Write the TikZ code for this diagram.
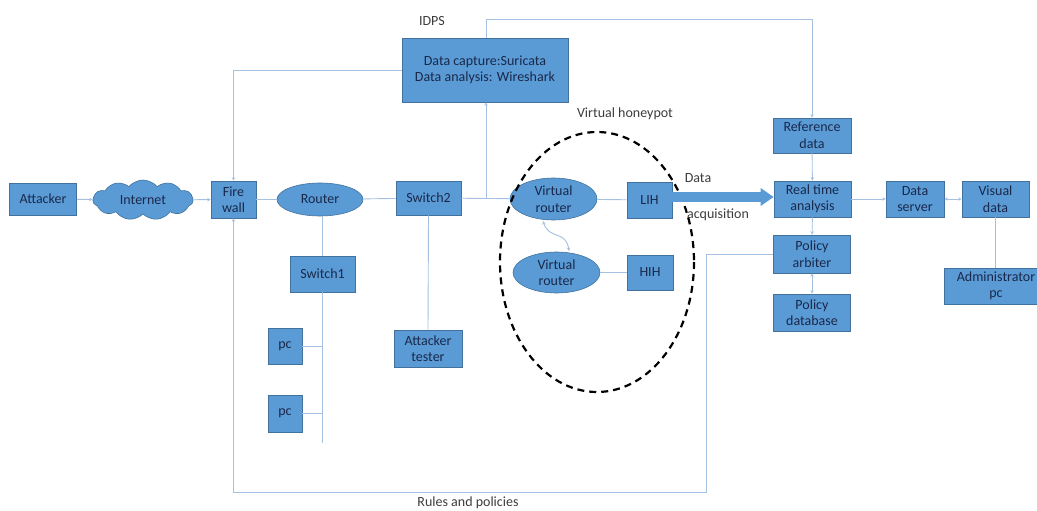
\documentclass[tikz,border=0pt]{standalone}
\usepackage{fontspec}
\setmainfont{Carlito}
\usetikzlibrary{arrows.meta,shapes.geometric,shapes.symbols,calc}
\definecolor{boxfill}{RGB}{91,155,213}
\definecolor{boxline}{RGB}{65,113,156}
\definecolor{txt}{RGB}{25,40,75}
\definecolor{conn}{RGB}{165,192,225}
\definecolor{lbl}{RGB}{60,60,60}
\tikzset{
  base/.style={fill=boxfill, draw=boxline, line width=0.6pt, text=txt, align=center,
    font=\fontsize{14}{16.5}\selectfont, inner sep=0pt},
  bx/.style={base, rectangle},
  ell/.style={base, ellipse},
  cld/.style={base, cloud, cloud puffs=11, cloud puff arc=100, aspect=2.5},
  conline/.style={draw=conn, line width=0.9pt},
  arr/.style={conline, -{Stealth[length=3.5pt,width=3.5pt]}},
  darr/.style={conline, {Stealth[length=3.5pt,width=3.5pt]}-{Stealth[length=3.5pt,width=3.5pt]}},
  plain/.style={text=lbl, font=\fontsize{14}{16.5}\selectfont, inner sep=0pt},
}
\begin{document}
\begin{tikzpicture}[x=1pt,y=-1pt]
\useasboundingbox (0,0) rectangle (1037,511);
% nodes
\node[bx, minimum width=67, minimum height=32] (attacker) at (43,199) {Attacker};
\node[cld, minimum width=100, minimum height=40] (internet) at (143,200) {Internet};
\node[bx, minimum width=45, minimum height=37] (firewall) at (233.5,199.5) {Fire\\wall};
\node[ell, minimum width=86, minimum height=33] (router) at (320,199.5) {Router};
\node[bx, minimum width=65, minimum height=34] (switch2) at (428.5,198) {Switch2};
\node[bx, minimum width=65, minimum height=36] (switch1) at (322.5,274) {Switch1};
\node[bx, minimum width=34, minimum height=36] (pc1) at (285,346) {pc};
\node[bx, minimum width=34, minimum height=37] (pc2) at (285,413.5) {pc};
\node[bx, minimum width=68, minimum height=37] (tester) at (428,348.5) {Attacker\\tester};
\node[bx, minimum width=166, minimum height=64] (idps) at (485,70) {Data capture:Suricata\\Data analysis: Wireshark};
\node[ell, minimum width=87, minimum height=42] (vr1) at (553.5,199) {Virtual\\router};
\node[ell, minimum width=87, minimum height=41] (vr2) at (556.5,272.5) {Virtual\\router};
\node[bx, minimum width=45, minimum height=36] (lih) at (649.5,200) {LIH};
\node[bx, minimum width=46, minimum height=35] (hih) at (650,272.5) {HIH};
\node[bx, minimum width=78, minimum height=35] (refdata) at (812,135.5) {Reference\\data};
\node[bx, minimum width=77, minimum height=36] (rta) at (812.5,199) {Real time\\analysis};
\node[bx, minimum width=77, minimum height=38] (arbiter) at (812,254) {Policy\\arbiter};
\node[bx, minimum width=77, minimum height=37] (policydb) at (812,312.5) {Policy\\database};
\node[bx, minimum width=58, minimum height=36] (dataserver) at (915,199) {Data\\server};
\node[bx, minimum width=67, minimum height=36] (visual) at (995.5,199) {Visual\\data};
\node[bx, minimum width=104, minimum height=36] (admin) at (996,286) {Administrator\\pc};
% labels
\node[plain] (lidps) at (432,21) {IDPS};
\node[plain] (lhoney) at (625,114) {Virtual honeypot};
\node[plain] (ldata) at (698,178) {Data};
\node[plain] (lacq) at (718,215) {acquisition};
\node[plain] (lrules) at (468,503) {Rules and policies};
% honeypot boundary
\draw[black, line width=2.2pt, dash pattern=on 7pt off 5pt] (597,262) ellipse [x radius=97, y radius=130];
% coordinates
\coordinate (tap) at (486,199);
\coordinate (topy) at (486,19);
\coordinate (rbend) at (706,492);
\coordinate (sw1end) at (322.5,443);
% connectors
\draw[arr] (attacker) -- (internet);
\draw[arr] (internet) -- (firewall);
\draw[conline] (firewall) -- (router);
\draw[conline] (router) -- (switch2);
\draw[conline] (switch2) -- (vr1);
\draw[arr] (tap) -- (tap |- idps.south);
\draw[arr] (idps.west) -| (firewall.north);
\draw[arr] (idps.north -| topy) -- (topy) -| (refdata.north);
\draw[conline] (vr1) -- (lih);
\draw[conline] (vr2) -- (hih);
\draw[darr] (543,221) .. controls (549,240) and (566,230) .. (569,251);
\draw[draw=boxfill, line width=10pt, -{Triangle[length=13pt,width=17pt]}] (lih.east |- 0,197) -- (rta.west |- 0,197);
\draw[arr] (refdata) -- (rta);
\draw[arr] (rta) -- (arbiter);
\draw[darr] (arbiter) -- (policydb);
\draw[arr] (rta) -- (dataserver);
\draw[darr] (dataserver) -- (visual);
\draw[conline] (visual.south) -- (visual.south |- admin.north);
\draw[arr] (arbiter.west) -| (rbend) -| (firewall.south);
\draw[conline] (switch1.north) -- (switch1.north |- router.south);
\draw[conline] (switch1.south) -- (sw1end);
\draw[conline] (pc1.east) -- (pc1.east -| sw1end);
\draw[conline] (pc2.east) -- (pc2.east -| sw1end);
\draw[conline] (switch2.south) -- (tester.north);
\end{tikzpicture}
\end{document}
